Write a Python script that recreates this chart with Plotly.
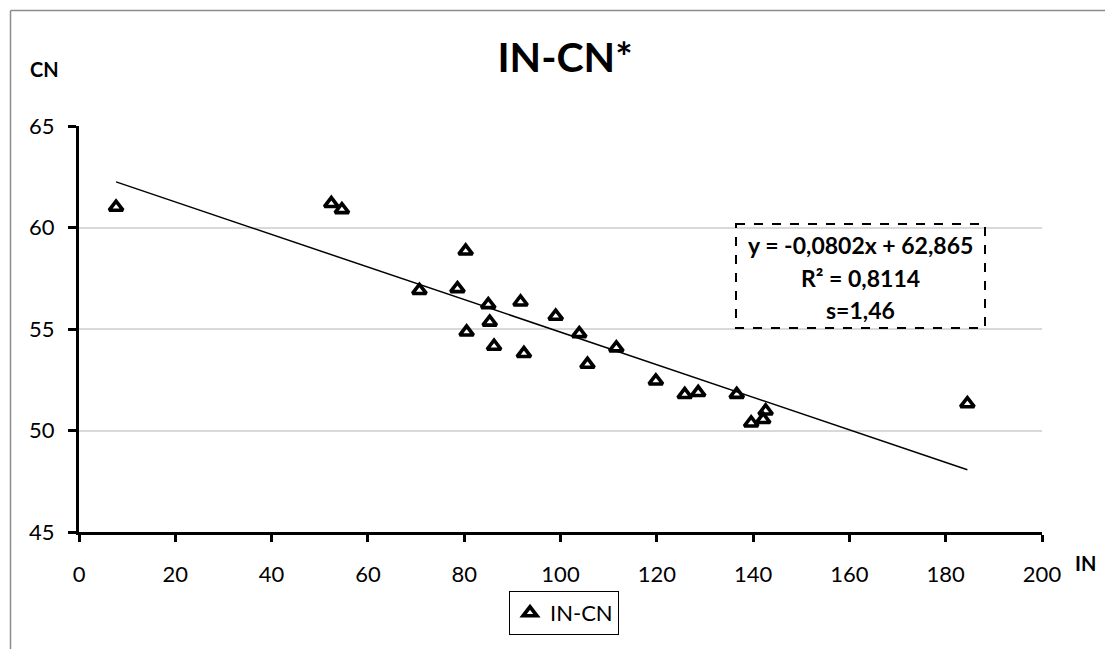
import plotly.graph_objects as go

# IN / CN measurements
in_values = [7.7, 52.4, 54.6, 70.7, 78.6, 80.3, 80.5, 85.0, 85.3, 86.2, 91.7, 92.4,
             99.0, 103.9, 105.6, 111.6, 119.8, 125.8, 128.6, 136.6, 139.6, 142.1,
             142.6, 184.5]
cn_values = [61.0, 61.18, 60.88, 56.9, 56.99, 58.84, 54.85, 56.2, 55.34, 54.15, 56.33, 53.79,
             55.63, 54.77, 53.26, 54.07, 52.44, 51.77, 51.87, 51.78, 50.37, 50.54,
             50.96, 51.32]

# linear trend reported for the series
slope = -0.0802
intercept = 62.865
r_squared = 0.8114
s_value = 1.46

x_ticks = [0, 20, 40, 60, 80, 100, 120, 140, 160, 180, 200]
y_ticks = [45, 50, 55, 60, 65]

W, H = 1105, 649
PL, PR, PT, PB = 79, 1042, 126, 532  # plot area in pixels


def px_x(p):
    return (p - PL) / (PR - PL)


def px_y(p):
    return (PB - p) / (PB - PT)


def fmt(v, nd):
    return f"{v:.{nd}f}".replace(".", ",")


FONT = "Lato"

trend_x = [min(in_values), max(in_values)]
trend_y = [slope * x + intercept for x in trend_x]

fig = go.Figure()
fig.add_trace(go.Scatter(
    x=trend_x, y=trend_y, mode="lines",
    line=dict(color="black", width=1.5),
    showlegend=False, hoverinfo="skip",
))
fig.add_trace(go.Scatter(
    x=in_values, y=cn_values, mode="markers", name="IN-CN",
    marker=dict(symbol="triangle-up-open", size=12, color="black",
                line=dict(color="black", width=3.6)),
))

eq_lines = [
    f"y = {fmt(slope, 4)}x + {fmt(intercept, 3)}",
    f"R² = {fmt(r_squared, 4)}",
    f"s={fmt(s_value, 2)}",
]
eq_centers = [245, 278, 310]

annotations = []
for txt, cy in zip(eq_lines, eq_centers):
    annotations.append(dict(
        text=f"<b>{txt}</b>", xref="paper", yref="paper",
        x=px_x(860), y=px_y(cy), xanchor="center", yanchor="middle",
        showarrow=False, font=dict(family=FONT, size=23, color="black"),
    ))
# axis titles
annotations.append(dict(
    text="<b>CN</b>", xref="paper", yref="paper", x=px_x(44), y=px_y(69),
    xanchor="center", yanchor="middle", showarrow=False,
    font=dict(family=FONT, size=20, color="black"),
))
annotations.append(dict(
    text="<b>IN</b>", xref="paper", yref="paper", x=px_x(1085), y=px_y(563),
    xanchor="center", yanchor="middle", showarrow=False,
    font=dict(family=FONT, size=20, color="black"),
))

shapes = [
    # dashed box around the regression statistics
    dict(type="rect", xref="paper", yref="paper",
         x0=px_x(736), x1=px_x(985), y0=px_y(224), y1=px_y(328),
         line=dict(color="black", width=2, dash="dash"), fillcolor="rgba(0,0,0,0)"),
    # chart frame (top and left edges inside the page)
    dict(type="line", xref="paper", yref="paper",
         x0=px_x(10.5), x1=px_x(W + 5), y0=px_y(10.5), y1=px_y(10.5),
         line=dict(color="#8c8c8c", width=1.5)),
    dict(type="line", xref="paper", yref="paper",
         x0=px_x(10.5), x1=px_x(10.5), y0=px_y(10.5), y1=px_y(H + 5),
         line=dict(color="#8c8c8c", width=1.5)),
]

fig.update_layout(
    width=W, height=H,
    margin=dict(l=PL, r=W - PR, t=PT, b=H - PB, pad=0),
    paper_bgcolor="white", plot_bgcolor="white",
    font=dict(family=FONT, size=22, color="black"),
    title=dict(text="<b>IN-CN*</b>", xref="paper", x=px_x(565),
               yref="container", y=1 - 58 / H, xanchor="center", yanchor="middle",
               font=dict(family=FONT, size=41, color="black")),
    xaxis=dict(range=[0, 200], tickvals=x_ticks, ticktext=[str(v) for v in x_ticks],
               showgrid=False, zeroline=False, showline=True, linecolor="black", linewidth=3,
               ticks="outside", ticklen=7, tickwidth=3, tickcolor="black",
               ticklabelstandoff=14, tickfont=dict(family=FONT, size=22, color="black")),
    yaxis=dict(range=[45, 65], tickvals=y_ticks, ticktext=[str(v) for v in y_ticks],
               showgrid=True, gridcolor="#d9d9d9", gridwidth=1.5, zeroline=False,
               showline=True, linecolor="black", linewidth=3,
               ticks="outside", ticklen=8, tickwidth=3, tickcolor="black",
               ticklabelstandoff=9, tickfont=dict(family=FONT, size=22, color="black")),
    legend=dict(x=px_x(509), y=px_y(591), xanchor="left", yanchor="top",
                bordercolor="black", borderwidth=1, bgcolor="white",
                font=dict(family=FONT, size=22, color="black"),
                itemwidth=30),
    annotations=annotations,
    shapes=shapes,
)

fig.write_html("out.html")
